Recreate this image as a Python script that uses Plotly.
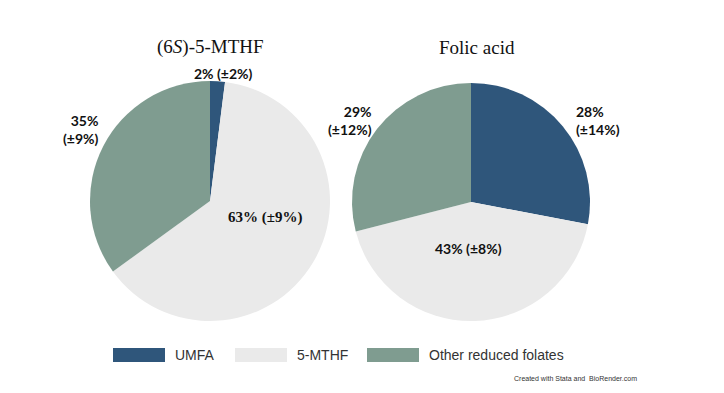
import plotly.graph_objects as go

categories = ["UMFA", "5-MTHF", "Other reduced folates"]
colors = ["#2F567B", "#EAEAEA", "#7F9C90"]
mthf_values = [2, 63, 35]
mthf_sd = [2, 9, 9]
folic_values = [28, 43, 29]
folic_sd = [14, 8, 12]
titles = ["(6<i>S</i>)-5-MTHF", "Folic acid"]

W, H = 724, 393

def px(x):
    return x / W

def py(y):
    return 1 - y / H

fig = go.Figure()
fig.add_trace(go.Pie(
    labels=categories, values=mthf_values, sort=False, direction="clockwise",
    rotation=0, marker=dict(colors=colors, line=dict(width=0)), textinfo="none",
    domain=dict(x=[px(90), px(330)], y=[py(321), py(81)]), showlegend=False,
    hoverinfo="label+percent"))
fig.add_trace(go.Pie(
    labels=categories, values=folic_values, sort=False, direction="clockwise",
    rotation=0, marker=dict(colors=colors, line=dict(width=0)), textinfo="none",
    domain=dict(x=[px(352), px(590)], y=[py(321), py(83)]), showlegend=False,
    hoverinfo="label+percent"))

lab_font = dict(family="Lato, Liberation Sans, sans-serif", size=14, color="#111")
ser_font = dict(family="Liberation Serif, serif", size=15, color="#111")
ann = []
# titles
ann.append(dict(x=px(210), y=py(47), text=titles[0], showarrow=False,
                font=dict(family="Liberation Serif, serif", size=19, color="#111")))
ann.append(dict(x=px(477), y=py(47), text=titles[1], showarrow=False,
                font=dict(family="Liberation Serif, serif", size=19, color="#111")))

def lbl(v, s, sep=" "):
    return f"<b>{v}%{sep}(±{s}%)</b>"

# left pie labels
ann.append(dict(x=px(223), y=py(73), text=lbl(mthf_values[0], mthf_sd[0]), showarrow=False, font=lab_font))
ann.append(dict(x=px(101), y=py(130), text=lbl(mthf_values[2], mthf_sd[2], "<br>"), showarrow=False,
                font=lab_font, xanchor="right", align="right"))
ann.append(dict(x=px(265), y=py(217), text=lbl(mthf_values[1], mthf_sd[1]), showarrow=False, font=ser_font))
# right pie labels
ann.append(dict(x=px(374), y=py(120), text=lbl(folic_values[2], folic_sd[2], "<br>"), showarrow=False,
                font=lab_font, xanchor="right", align="right"))
ann.append(dict(x=px(574), y=py(120), text=lbl(folic_values[0], folic_sd[0], "<br>"), showarrow=False,
                font=lab_font, xanchor="left", align="left"))
ann.append(dict(x=px(468), y=py(249), text=lbl(folic_values[1], folic_sd[1]), showarrow=False, font=lab_font))

# legend (manual)
shapes = []
leg_x = [113, 235, 367]
for i, (cat, col) in enumerate(zip(categories, colors)):
    x0 = leg_x[i]
    shapes.append(dict(type="rect", xref="paper", yref="paper", x0=px(x0), x1=px(x0 + 52),
                       y0=py(362), y1=py(348), fillcolor=col, line=dict(width=0)))
    ann.append(dict(x=px(x0 + 60), y=py(355), text=cat, showarrow=False, xanchor="left",
                    font=dict(family="Liberation Sans, Arial, sans-serif", size=14, color="#333")))

ann.append(dict(x=px(512), y=py(378), text="Created with Stata and  BioRender.com", showarrow=False,
                xanchor="left", font=dict(family="Liberation Sans, Arial, sans-serif", size=7, color="#333")))

for a in ann:
    a.setdefault("xref", "paper")
    a.setdefault("yref", "paper")
    a.setdefault("xanchor", "center")
    a.setdefault("yanchor", "middle")

fig.update_layout(width=W, height=H, margin=dict(l=0, r=0, t=0, b=0),
                  paper_bgcolor="white", plot_bgcolor="white",
                  annotations=ann, shapes=shapes, showlegend=False)
fig.write_html("out.html", config={"displayModeBar": False},
               post_script="document.body.style.margin='0';")
